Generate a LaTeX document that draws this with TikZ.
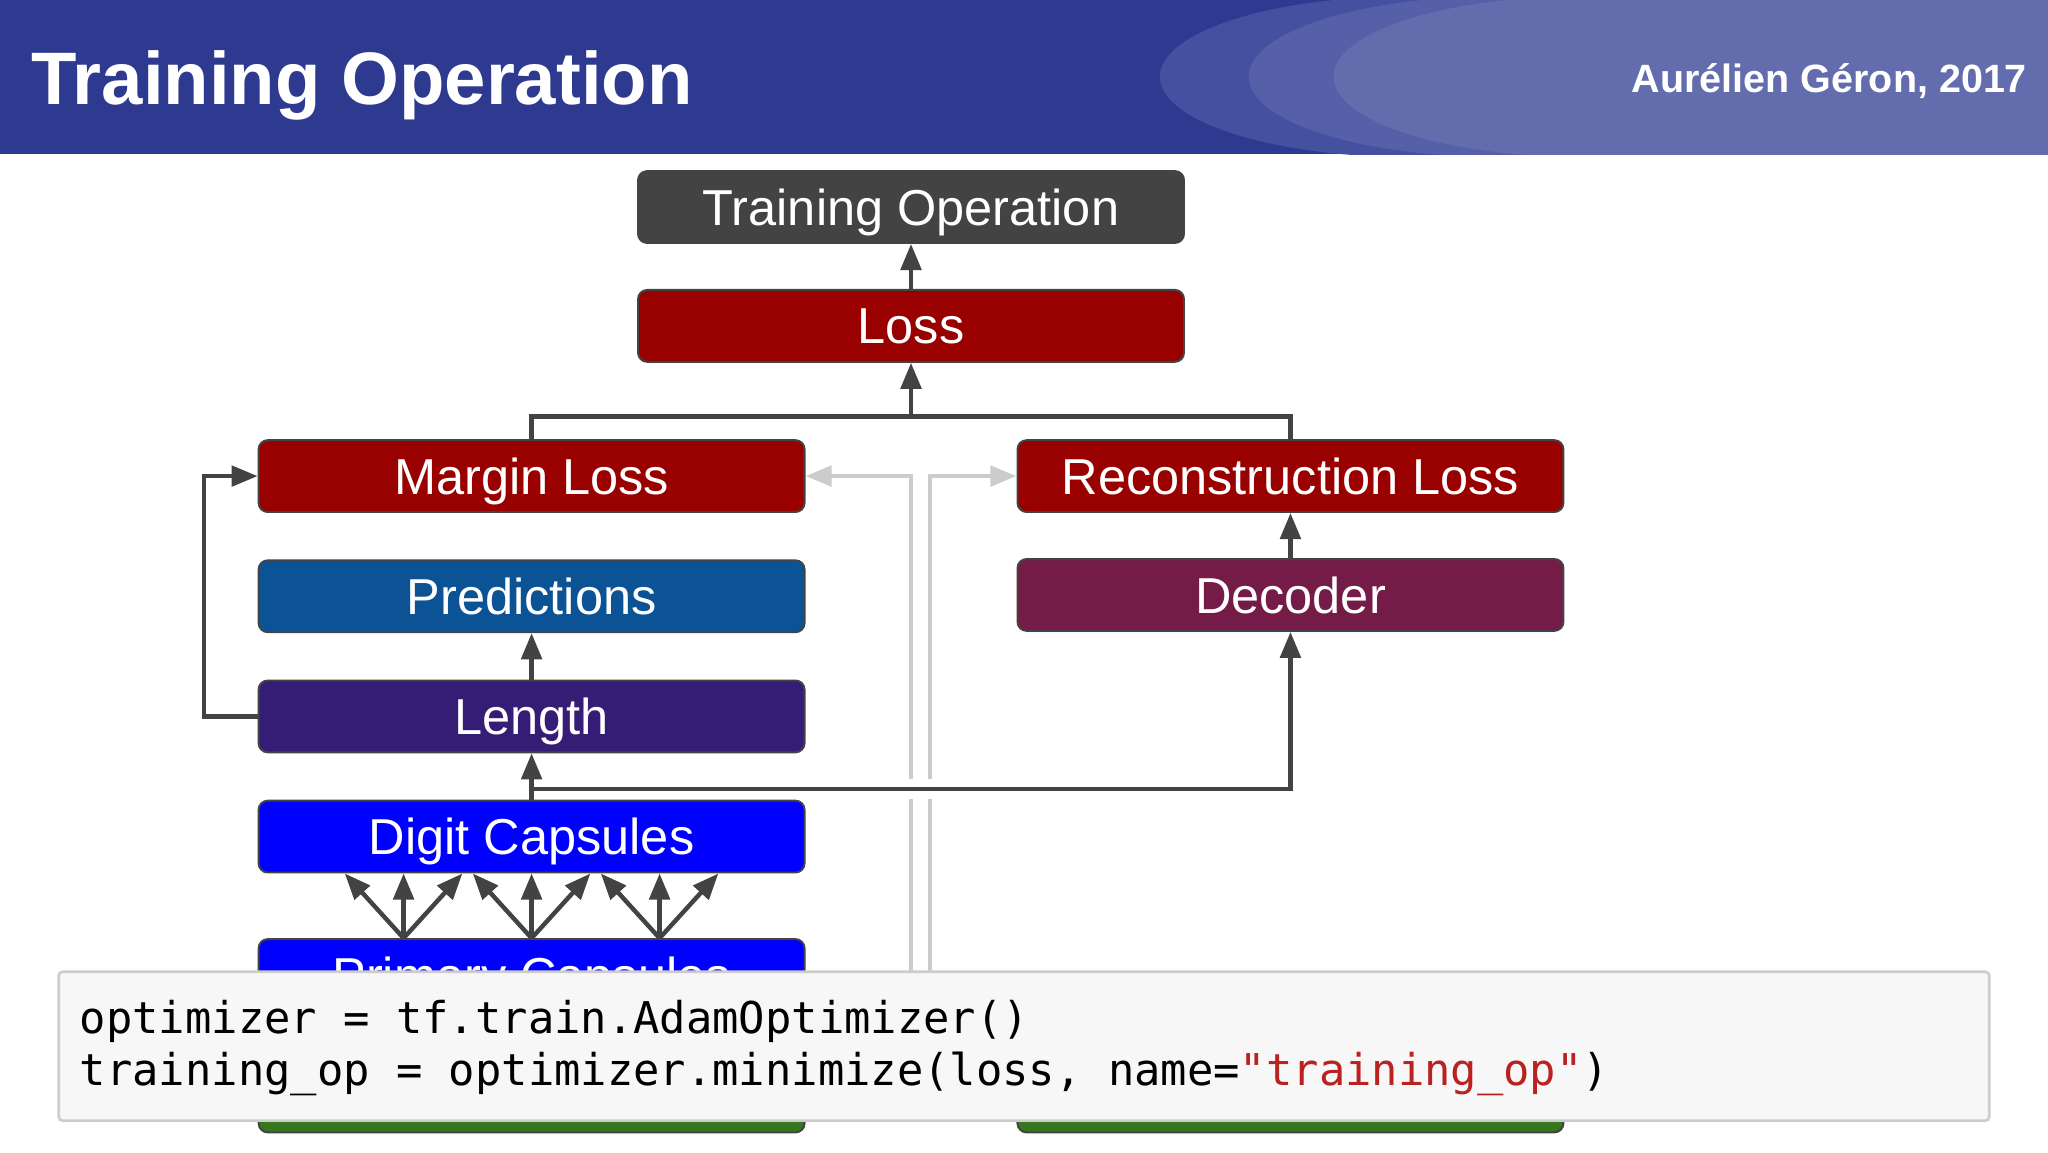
\documentclass[tikz,border=0pt]{standalone}
\usepackage{fontspec}
\setmainfont{Liberation Sans}
\newfontfamily\codefont{DejaVu Sans Mono}
\usepackage{tikz}
\usetikzlibrary{positioning, arrows.meta, calc}
\definecolor{bandblue}{RGB}{46,58,143}
\definecolor{swoosha}{RGB}{68,81,160}
\definecolor{swooshb}{RGB}{85,96,168}
\definecolor{swooshc}{RGB}{99,109,174}
\definecolor{opgray}{HTML}{434343}
\definecolor{lossred}{HTML}{990000}
\definecolor{predblue}{HTML}{0B5394}
\definecolor{lenpurple}{HTML}{351C75}
\definecolor{capsblue}{HTML}{0000FF}
\definecolor{decwine}{HTML}{741B47}
\definecolor{labelgreen}{HTML}{38761D}
\definecolor{wiregray}{HTML}{CCCCCC}
\definecolor{codebg}{HTML}{F7F7F7}
\definecolor{strred}{HTML}{BA2121}
\tikzset{
>={Triangle[length=10mm, width=7.8mm]}, % filled triangle heads on every connector
node distance=17.75mm, % gap between two stacked boxes
box/.style={draw=opgray, line width=0.75mm, rounded corners=3.5mm, minimum width=209mm, minimum height=27.5mm, inner sep=0pt, text=white, font=\fontsize{55}{66}\selectfont, text height=39.4pt, text depth=0pt}, % one layer of the network
link/.style={->, draw=opgray, line width=1.7mm}, % dark data flow
wire/.style={->, draw=wiregray, line width=1.7mm}, % light label flow
}

\begin{document}
\begin{tikzpicture}[
  x=0.5mm,
  y=-0.5mm,
  halo/.style={draw=white, line width=7.5mm},
  banner/.style={anchor=base, text=white, inner sep=0pt}
]
  \useasboundingbox (0,0) rectangle (1568,882);
  \fill[white] (0,0) rectangle (1568,882);
  \begin{scope}
    \clip (0,0) rectangle (1568,118);
    \fill[bandblue] (0,0) rectangle (1568,118);
    \foreach \cx/\col in {1078/swoosha, 1146/swooshb, 1211/swooshc} {
      \fill[\col] (\cx,58.7) ellipse [x radius=95mm, y radius=30.75mm];
      \fill[\col] (\cx,-10) rectangle (1600,130);
    }
  \end{scope}
  \node[banner, anchor=base west, font=\fontsize{81}{90}\selectfont\bfseries] (title) at (24,80) {Training Operation};
  \node[banner, anchor=base east, font=\fontsize{43}{50}\selectfont\bfseries] (author) at (1552,71) {Aurélien Géron, 2017};

  \node[box, fill=lossred] (margin) at (407,364.5) {Margin Loss};
  \node[box, fill=lossred, right=80.75mm of margin] (recon) {Reconstruction Loss};
  \node[box, fill=lossred] (loss) at (697.5,249.5) {Loss};
  \node[box, fill=opgray, above=17.25mm of loss] (trainop) {Training Operation};
  \node[box, fill=predblue, below=of margin] (pred) {Predictions};
  \node[box, fill=lenpurple, below=of pred] (length) {Length};
  \node[box, fill=capsblue, below=of length] (digit) {Digit Capsules};
  \node[box, fill=capsblue, below=24.75mm of digit] (primary) {Primary Capsules};
  \node[box, fill=decwine, below=17.25mm of recon] (decoder) {Decoder};
  \node[box, fill=labelgreen] (images) at (407,839.5) {};
  \node[box, fill=labelgreen] (labels) at (988,839.5) {};

  \coordinate (tapmargin) at (697.5,744);
  \coordinate (taprecon) at (712,744);
  \draw[wire] (tapmargin) |- (margin.east);
  \draw[wire] (taprecon) |- (recon.west);

  \coordinate (lossjoin) at ($(loss.south)+(0,41)$);
  \coordinate (capsjoin) at ($(digit.north)+(0,-8)$);
  \draw[link] (loss) -- (trainop);
  \draw[link, -] (margin.north) |- (lossjoin) -| (recon.north);
  \draw[link] (lossjoin) -- (loss.south);
  \draw[link] (length.west) -- ++(-41,0) |- (margin.west);
  \draw[link] (length) -- (pred);
  \draw[link] (decoder) -- (recon);
  \draw[halo] (capsjoin) -- (capsjoin -| decoder.south);
  \draw[link] (capsjoin) -| (decoder.south);
  \draw[link] (digit) -- (length);
  \foreach \s in {-98,0,98}
    \foreach \d in {-45,0,45}
      \draw[link] ($(primary.north)+(\s,0)$) -- ($(digit.south)+(\s+\d,0)$);

  \node[draw=wiregray, fill=codebg, line width=1mm, rounded corners=1.5mm, minimum width=739mm, minimum height=57mm, inner sep=0pt] (code) at (784,801) {};
  \node[anchor=base west, inner sep=0pt, font=\codefont\fontsize{47.7}{57}\selectfont] (codea) at (61,791) {optimizer = tf.train.AdamOptimizer()};
  \node[anchor=base west, inner sep=0pt, font=\codefont\fontsize{47.7}{57}\selectfont] (codeb) at (61,831) {training\_op = optimizer.minimize(loss, name=\textcolor{strred}{"training\_op"})};
\end{tikzpicture}
\end{document}
